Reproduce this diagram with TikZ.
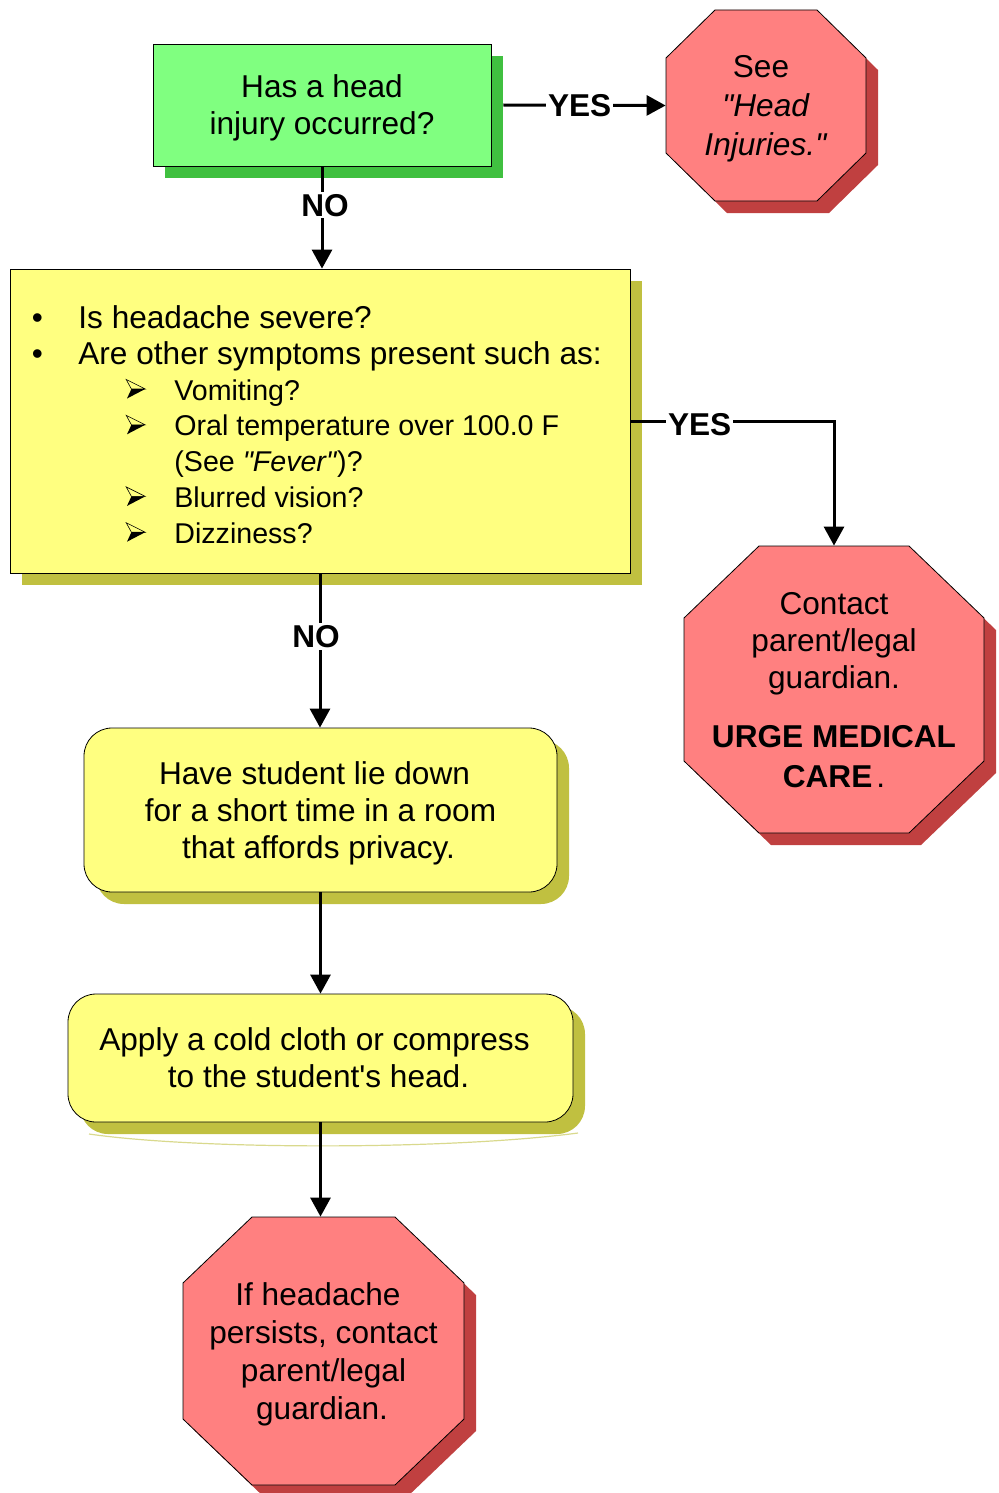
\documentclass[tikz,border=0pt]{standalone}
\usepackage{fontspec}
\setmainfont{Liberation Sans}[Ligatures=TeXOff]
\usetikzlibrary{arrows.meta,shadows}
\definecolor{boxgreen}{HTML}{80FF80}
\definecolor{greenshade}{HTML}{40C040}
\definecolor{boxyellow}{HTML}{FFFF80}
\definecolor{yellowshade}{HTML}{C0C040}
\definecolor{stopred}{HTML}{FF8080}
\definecolor{redshade}{HTML}{C04040}
% octagon: x1 y1 x2 y2 xcut ycut
\newcommand{\octo}[6]{\path[stopsign] (#1+#5,#2) -- (#3-#5,#2) -- (#3,#2+#6) -- (#3,#4-#6) -- (#3-#5,#4) -- (#1+#5,#4) -- (#1,#4-#6) -- (#1,#2+#6) -- cycle;}
\newcommand{\smallfont}{\fontsize{14.3}{17.9}\selectfont}
\newcommand{\arrowitem}[1]{\hspace*{47pt}\makebox[24.25pt][l]{\tikz[baseline=-5.5pt]{\draw[line width=0.3pt] (0pt,4.75pt) -- (9.5pt,0pt) -- (2.6pt,0pt) -- cycle; \fill (2.6pt,0pt) -- (9.5pt,0pt) -- (0.4pt,-4.75pt) -- cycle;}}{\smallfont #1}}
\newcommand{\dotitem}{\makebox[23.25pt][l]{•}}
\begin{document}
\fontsize{15.8}{18.5}\selectfont
\begin{tikzpicture}[x=0.5pt,y=-0.5pt]
  \tikzstyle{greenbox}=[rectangle, draw=black, thin, fill=boxgreen, align=center, text depth=0pt, drop shadow={fill=greenshade, opacity=1, shadow xshift=6pt, shadow yshift=-6pt}]
  \tikzstyle{yellowbox}=[rectangle, draw=black, thin, fill=boxyellow, drop shadow={fill=yellowshade, opacity=1, shadow xshift=6pt, shadow yshift=-6pt}]
  \tikzstyle{roundbox}=[yellowbox, rounded corners=14pt, align=center, text depth=0pt]
  \tikzstyle{stopsign}=[draw=black, thin, fill=stopred, drop shadow={fill=redshade, opacity=1, shadow xshift=6pt, shadow yshift=-6pt}]
  \tikzstyle{stoptext}=[rectangle, align=center, inner sep=0pt, text depth=0pt]
  \tikzstyle{arr}=[-{Triangle[length=9.5pt,width=10pt]}, line width=1.5pt]
  \tikzstyle{lbl}=[fill=white, inner sep=1pt, font=\bfseries]
  \useasboundingbox (0,0) rectangle (998,1493);

  % stop signs
  \octo{666}{10}{866}{201}{49}{48}
  \octo{684}{546}{984}{833}{75}{72}
  \octo{183}{1217}{464}{1485}{69}{66}
  \draw[yellowshade!60, line width=0.6pt] (89,1134) .. controls (200,1150) and (450,1150) .. (578,1133);

  \node[greenbox, minimum width=169pt, minimum height=61pt] (ask) at (322,105) {Has a head\\injury occurred?};
  \node[stoptext, minimum width=100pt, minimum height=96pt] (seeinj) at (766,105.5) {See\hspace*{5pt}\\[1pt]\textit{"Head}\hspace*{3pt}\\[1pt]\textit{Injuries."}};
  \node[yellowbox, minimum width=310pt, minimum height=152pt] (symptoms) at (320,421) {};
  \node[anchor=west, align=left, inner sep=0pt, font=\fontsize{15.8}{17.9}\selectfont] (symptomlist) at (31.5,424.5) {%
    \dotitem Is headache severe?\\
    \dotitem Are other symptoms present such as:\\
    \arrowitem{Vomiting?}\\
    \arrowitem{Oral temperature over 100.0 F}\\
    \hspace*{71.25pt}{\smallfont (See \textit{"Fever"})?}\\
    \arrowitem{Blurred vision?}\\
    \arrowitem{Dizziness?}};
  \node[stoptext, minimum width=150pt, minimum height=143.5pt] (contact) at (834,689.5) {Contact\\parent/legal\\guardian.\\[11pt]\textbf{URGE MEDICAL}\\[1.5pt]\textbf{CARE}\hspace{2pt}.};
  \node[roundbox, minimum width=236.5pt, minimum height=82pt] (liedown) at (320.5,810) {Have student lie down\hspace*{6pt}\\for a short time in a room\hspace*{6pt}\\that affords privacy.\hspace*{2pt}};
  \node[roundbox, minimum width=252.5pt, minimum height=64pt] (compress) at (320.5,1058) {Apply a cold cloth or compress\hspace*{6pt}\\to the student's head.\hspace*{2pt}};
  \node[stoptext, minimum width=140.5pt, minimum height=134pt] (persist) at (323.5,1351) {If headache\hspace*{5.5pt}\\[0.4pt]persists, contact\\[0.4pt]parent/legal\hspace*{5.5pt}\\[0.4pt]guardian.\hspace*{1.5pt}};

  % connectors
  \draw[arr] ([xshift=6pt]ask.east) -- node[lbl, pos=0.47]{YES} (seeinj.west);
  \draw[arr] (ask.south) -- node[lbl, pos=0.38, xshift=1.5pt]{NO} (ask.south |- symptoms.north);
  \draw[arr] (symptoms.east) -- node[lbl, pos=0.34, yshift=-2pt]{YES} (symptoms.east -| contact.north) -- (contact.north);
  \draw[arr] (symptoms.south) -- node[lbl, pos=0.41, xshift=-2pt]{NO} (symptoms.south |- liedown.north);
  \draw[arr] (liedown.south) -- (compress.north);
  \draw[arr] (compress.south) -- (compress.south |- persist.north);
\end{tikzpicture}
\end{document}
